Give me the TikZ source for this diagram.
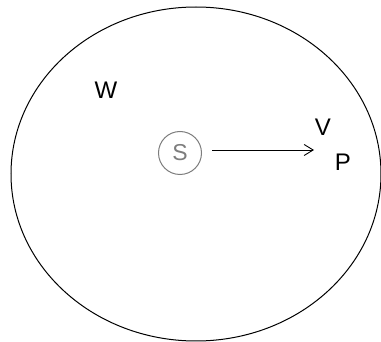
\documentclass[tikz,border=0pt]{standalone}
\usepackage{fontspec}
\setmainfont{Liberation Sans}
\usetikzlibrary{arrows.meta, positioning}
\definecolor{sourcegray}{RGB}{125,125,125}

\begin{document}
\begin{tikzpicture}[x=1pt, y=-1pt,
    letter/.style={font=\fontsize{24}{24}\selectfont, inner sep=0pt},
    source/.style={circle, draw=sourcegray, line width=1pt, text=sourcegray,
        minimum size=43pt, inner sep=0pt, font=\fontsize{23}{23}\selectfont},
    flow/.style={line width=0.8pt, -{Straight Barb[length=9pt, width=11pt, line width=0.9pt]}}
]
    \useasboundingbox (0,0) rectangle (381,342);
    % region
    \draw[line width=1pt] (196,174) ellipse [x radius=185pt, y radius=167pt];
    \node[letter] (w) at (106,90) {W};

    % source and direction
    \node[source] (s) at (180,153) {S};
    \coordinate (tip) at (314,150);
    \node[letter] (v) at (323,127) {V};
    \node[letter] (p) at (343,162) {P};
    \draw[flow] ([xshift=10pt]s.east |- tip) -- (tip);
\end{tikzpicture}
\end{document}
